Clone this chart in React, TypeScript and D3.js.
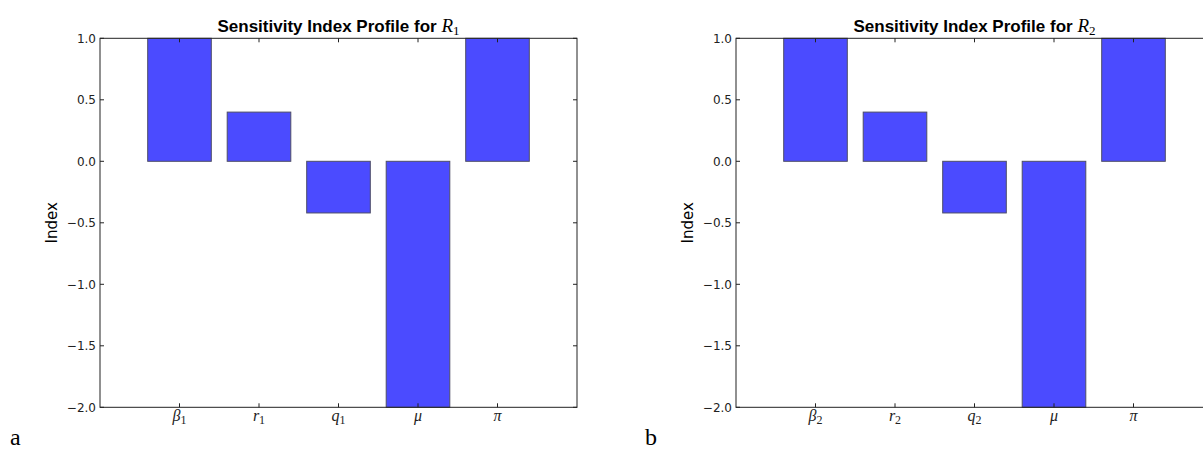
import React from 'react';
import * as d3 from 'd3';

// parameter labels (base symbol + optional subscript)
const labelsR1 = [
  { base: 'β', sub: '1' },
  { base: 'r', sub: '1' },
  { base: 'q', sub: '1' },
  { base: 'μ', sub: '' },
  { base: 'π', sub: '' },
];
const labelsR2 = [
  { base: 'β', sub: '2' },
  { base: 'r', sub: '2' },
  { base: 'q', sub: '2' },
  { base: 'μ', sub: '' },
  { base: 'π', sub: '' },
];

// sensitivity indices
const valuesR1 = [1.0, 0.4, -0.42, -2.0, 1.0];
const valuesR2 = [1.0, 0.4, -0.42, -2.0, 1.0];

const yTicks = [1.0, 0.5, 0.0, -0.5, -1.0, -1.5, -2.0];

const W = 1203;
const H = 453;
const top = 38.3;
const bottom = 407.3;
const plotW = 477;

const fmt = (v: number) => (v < 0 ? '\u2212' : '') + Math.abs(v).toFixed(1);

type Label = { base: string; sub: string };

const Panel = ({ left, sub, labels, values, letter }: { left: number; sub: string; labels: Label[]; values: number[]; letter: string }) => {
  const x = d3.scaleLinear().domain([-1, 5]).range([left, left + plotW]);
  const y = d3.scaleLinear().domain([-2, 1]).range([bottom, top]);
  const barW = x(0.8) - x(0);
  const right = left + plotW;
  const tickLen = 4;
  const cx = left + plotW / 2;
  const cy = (top + bottom) / 2;

  return (
    <g>
      {/* bars */}
      {values.map((v, i) => (
        <rect
          key={i}
          x={x(i) - barW / 2}
          y={y(Math.max(v, 0))}
          width={barW}
          height={Math.abs(y(v) - y(0))}
          fill="#4b4bff"
          stroke="#4d4d66"
          strokeWidth={1}
        />
      ))}

      {/* frame */}
      <rect x={left} y={top} width={plotW} height={bottom - top} fill="none" stroke="#222" strokeWidth={1} />

      {/* y ticks, inward on both sides */}
      {yTicks.map((t) => (
        <g key={t}>
          <line x1={left} x2={left + tickLen} y1={y(t)} y2={y(t)} stroke="#222" />
          <line x1={right} x2={right - tickLen} y1={y(t)} y2={y(t)} stroke="#222" />
          <text
            x={left - 4}
            y={y(t)}
            dy="0.35em"
            textAnchor="end"
            fontFamily="DejaVu Sans"
            fontSize={12}
            fill="#222"
          >
            {fmt(t)}
          </text>
        </g>
      ))}

      {/* x ticks */}
      {labels.map((l, i) => (
        <g key={i}>
          <line x1={x(i)} x2={x(i)} y1={bottom} y2={bottom - tickLen} stroke="#222" />
          <line x1={x(i)} x2={x(i)} y1={top} y2={top + tickLen} stroke="#222" />
          <text
            x={x(i)}
            y={421}
            textAnchor="middle"
            fontFamily="Liberation Serif"
            fontSize={16}
            fill="#222"
          >
            <tspan fontStyle="italic">{l.base}</tspan>
            {l.sub && (
              <tspan fontSize={12} dy={3}>
                {l.sub}
              </tspan>
            )}
          </text>
        </g>
      ))}

      {/* title */}
      <text x={cx} y={32} textAnchor="middle" fontFamily="Liberation Sans" fontWeight="bold" fontSize={17} fill="#000">
        Sensitivity Index Profile for{' '}
        <tspan fontFamily="Liberation Serif" fontWeight="normal" fontStyle="italic" fontSize={19}>
          R
        </tspan>
        <tspan fontFamily="Liberation Serif" fontWeight="normal" fontSize={13} dy={3}>
          {sub}
        </tspan>
      </text>

      {/* y label */}
      <text
        transform={`translate(${left - 43}, ${cy}) rotate(-90)`}
        textAnchor="middle"
        fontFamily="DejaVu Sans"
        fontSize={15}
        fill="#000"
      >
        Index
      </text>

      {/* panel letter */}
      <text x={left - (letter === 'a' ? 90 : 91)} y={445} fontFamily="Liberation Serif" fontSize={24} fill="#000">
        {letter}
      </text>
    </g>
  );
};

export default function App() {
  return (
    <svg
      width={W}
      height={H}
      style={{ position: 'absolute', left: 0, top: 0, background: '#fff' }}
    >
      <Panel left={100} sub="1" labels={labelsR1} values={valuesR1} letter="a" />
      <Panel left={736} sub="2" labels={labelsR2} values={valuesR2} letter="b" />
    </svg>
  );
}
